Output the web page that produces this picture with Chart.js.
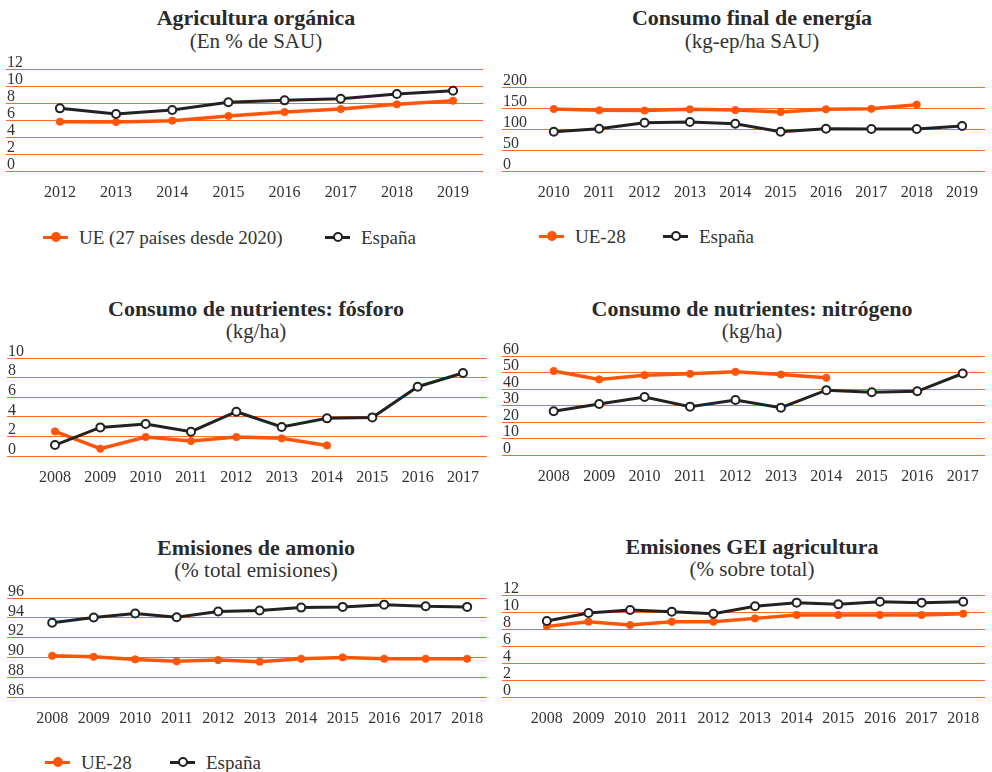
<!DOCTYPE html>
<html>
<head>
<meta charset="utf-8">
<script src="https://cdn.jsdelivr.net/npm/chart.js@4.4.1/dist/chart.umd.min.js"></script>
<style>
  body { margin: 0; width: 992px; height: 772px; position: relative; overflow: hidden; background: #fff;
         font-family: "Liberation Serif", serif; color: #333; }
  canvas { position: absolute; }
  .ttl { position: absolute; width: 500px; text-align: center; white-space: nowrap; }
  .ttl.main { font-size: 22px; line-height: 22px; font-weight: bold; color: #2a2a2a; }
  .ttl.sub { font-size: 21px; line-height: 21px; color: #333; }
  .legend { position: absolute; font-size: 19px; color: #333; line-height: 19px; height: 19px; }
  .legend .item { position: absolute; top: 0; display: flex; align-items: center; white-space: nowrap; }
  .legend .mk { position: relative; width: 25px; height: 10px; margin-right: 11px; }
  .legend .mk .ln { position: absolute; left: 0; right: 0; top: 3.5px; height: 3px; }
  .legend .mk .dot { position: absolute; left: 8px; top: 0; width: 6px; height: 6px; border-radius: 50%; border: 2px solid; }
</style>
</head>
<body>
<script>
// ---- data ----
const yearsOrg = [2012, 2013, 2014, 2015, 2016, 2017, 2018, 2019];
const orgUE = [5.8, 5.76, 5.92, 6.47, 6.94, 7.29, 7.84, 8.27];
const orgES = [7.37, 6.7, 7.18, 8.08, 8.31, 8.51, 9.06, 9.45];

const yearsEnergy = [2010, 2011, 2012, 2013, 2014, 2015, 2016, 2017, 2018, 2019];
const energyUE = [147.6, 144.4, 144, 147, 145, 140.5, 147, 148, 158];
const energyES = [93.6, 100.8, 115, 116.7, 112.7, 93.6, 100.8, 100, 100, 107];

const yearsNutr = [2008, 2009, 2010, 2011, 2012, 2013, 2014, 2015, 2016, 2017];
const phosUE = [2.51, 0.74, 1.94, 1.53, 1.94, 1.8, 1.08];
const phosES = [1.12, 2.92, 3.27, 2.48, 4.52, 2.96, 3.84, 3.94, 7.07, 8.47];
const nitroUE = [50.9, 45.8, 48.4, 49.2, 50.4, 48.8, 46.8];
const nitroES = [26.5, 30.9, 35.1, 29.3, 33.3, 28.7, 39.3, 38, 38.6, 49.4];

const yearsEmis = [2008, 2009, 2010, 2011, 2012, 2013, 2014, 2015, 2016, 2017, 2018];
const ammoniaUE = [90.16, 90.06, 89.8, 89.6, 89.73, 89.56, 89.86, 90.0, 89.86, 89.86, 89.86];
const ammoniaES = [93.5, 94.03, 94.43, 94.06, 94.63, 94.73, 95.03, 95.1, 95.33, 95.16, 95.1];
const gheUE = [8.31, 8.86, 8.47, 8.86, 8.86, 9.25, 9.65, 9.65, 9.65, 9.65, 9.8];
const gheES = [8.94, 9.88, 10.24, 10.04, 9.8, 10.67, 11.1, 10.9, 11.2, 11.1, 11.2];

const ORANGE = '#ff5508';
const BLACK = '#222222';
const GRID = '#ff6a24';
const X_AXIS_H = 36;

Chart.defaults.font.family = '"Liberation Serif", serif';
Chart.defaults.color = '#333';

const panels = [
  { left: 0, top: 0, width: 496, title: 'Agricultura orgánica', sub: '(En % de SAU)',
    years: yearsOrg, ue: orgUE, es: orgES, yMin: 0, yMax: 12, step: 2,
    area: { left: 5, right: 483, top: 69, bottom: 171 }, firstPx: 59, lastPx: 453, titleBase: 25, subBase: 48.5 },
  { left: 496, top: 0, width: 496, title: 'Consumo final de energía', sub: '(kg-ep/ha SAU)',
    years: yearsEnergy, ue: energyUE, es: energyES, yMin: 0, yMax: 200, step: 50,
    area: { left: 4, right: 489, top: 87, bottom: 171 }, firstPx: 56, lastPx: 466, titleBase: 25, subBase: 48.5 },
  { left: 0, top: 290, width: 496, title: 'Consumo de nutrientes: fósforo', sub: '(kg/ha)',
    years: yearsNutr, ue: phosUE, es: phosES, yMin: 0, yMax: 10, step: 2,
    area: { left: 7, right: 487, top: 68, bottom: 166 }, firstPx: 55, lastPx: 463, titleBase: 26, subBase: 48.5 },
  { left: 496, top: 290, width: 496, title: 'Consumo de nutrientes: nitrógeno', sub: '(kg/ha)',
    years: yearsNutr, ue: nitroUE, es: nitroES, yMin: 0, yMax: 60, step: 10,
    area: { left: 6, right: 489, top: 66, bottom: 165 }, firstPx: 57.7, lastPx: 466.7, titleBase: 26, subBase: 48.5 },
  { left: 0, top: 530, width: 496, title: 'Emisiones de amonio', sub: '(% total emisiones)',
    years: yearsEmis, ue: ammoniaUE, es: ammoniaES, yMin: 86, yMax: 96, step: 2,
    area: { left: 7, right: 488, top: 68, bottom: 167 }, firstPx: 52.3, lastPx: 468.3, titleBase: 25, subBase: 48 },
  { left: 496, top: 530, width: 496, title: 'Emisiones GEI agricultura', sub: '(% sobre total)',
    years: yearsEmis, ue: gheUE, es: gheES, yMin: 0, yMax: 12, step: 2,
    area: { left: 4, right: 492, top: 65, bottom: 167 }, firstPx: 49.3, lastPx: 470, titleBase: 24.5, subBase: 47 }
];

const TITLE_CENTER = 256;

function points(years, values) {
  return values.map((v, i) => ({ x: years[i], y: v }));
}

function addTitle(p, text, cls, baseline, baseOffset) {
  const d = document.createElement('div');
  d.className = 'ttl ' + cls;
  d.textContent = text;
  d.style.left = (p.left + TITLE_CENTER - 250) + 'px';
  d.style.top = (p.top + baseline - baseOffset) + 'px';
  document.body.appendChild(d);
}

function makeChart(p) {
  // titles as text above the chart, baseline offsets for 22px / 21px Liberation Serif
  addTitle(p, p.title, 'main', p.titleBase, 18.4);
  addTitle(p, p.sub, 'sub', p.subBase, 17.6);

  const cv = document.createElement('canvas');
  cv.width = p.width;
  cv.height = p.area.bottom + X_AXIS_H;
  cv.style.left = p.left + 'px';
  cv.style.top = p.top + 'px';
  document.body.appendChild(cv);

  const pxPerYear = (p.lastPx - p.firstPx) / (p.years.length - 1);
  const xMin = p.years[0] - (p.firstPx - p.area.left) / pxPerYear;
  const xMax = p.years[p.years.length - 1] + (p.area.right - p.lastPx) / pxPerYear;

  new Chart(cv, {
    type: 'line',
    data: {
      datasets: [
        { label: 'España', data: points(p.years, p.es), borderColor: BLACK, borderWidth: 3,
          pointBackgroundColor: '#fff', pointBorderColor: BLACK, pointBorderWidth: 2, pointRadius: 4, order: 1 },
        { label: 'UE', data: points(p.years, p.ue), borderColor: ORANGE, borderWidth: 3.5,
          pointBackgroundColor: ORANGE, pointBorderColor: ORANGE, pointBorderWidth: 1, pointRadius: 3.6, order: 2 }
      ]
    },
    options: {
      responsive: false,
      animation: false,
      events: [],
      layout: { padding: { left: p.area.left, right: p.width - p.area.right, top: p.area.top, bottom: 0 } },
      plugins: {
        legend: { display: false },
        tooltip: { enabled: false }
      },
      scales: {
        x: {
          type: 'linear', min: xMin, max: xMax,
          grid: { display: false, drawTicks: false }, border: { display: false },
          afterBuildTicks: s => { s.ticks = p.years.map(v => ({ value: v })); },
          afterFit: s => { s.height = X_AXIS_H; },
          ticks: { font: { size: 16 }, color: '#333', padding: 12.5, maxRotation: 0, autoSkip: false,
            callback: v => String(v) }
        },
        y: {
          min: p.yMin, max: p.yMax,
          grid: { color: GRID, lineWidth: 1, drawTicks: false }, border: { display: false },
          afterFit: s => { s.width = 0; },
          ticks: { stepSize: p.step, autoSkip: false, mirror: true, padding: 1, labelOffset: -6.5,
            font: { size: 16 }, color: '#333' }
        }
      }
    }
  });
}

panels.forEach(makeChart);

// ---- legends (HTML) ----
function makeLegend(lefts, midY, ueLabel) {
  const box = document.createElement('div');
  box.className = 'legend';
  box.style.left = '0px';
  box.style.top = (midY - 9.5) + 'px';
  const items = [
    { label: ueLabel, line: ORANGE, fill: ORANGE, stroke: ORANGE },
    { label: 'España', line: BLACK, fill: '#fff', stroke: BLACK }
  ];
  items.forEach((it, i) => {
    const item = document.createElement('div');
    item.className = 'item';
    item.style.left = lefts[i] + 'px';
    item.innerHTML = '<span class="mk"><span class="ln" style="background:' + it.line + '"></span>' +
      '<span class="dot" style="background:' + it.fill + ';border-color:' + it.stroke + '"></span></span>' +
      '<span>' + it.label + '</span>';
    box.appendChild(item);
  });
  document.body.appendChild(box);
}

makeLegend([43, 325], 237, 'UE (27 países desde 2020)');
makeLegend([539, 663], 236, 'UE-28');
makeLegend([45, 170], 762, 'UE-28');
</script>
</body>
</html>
